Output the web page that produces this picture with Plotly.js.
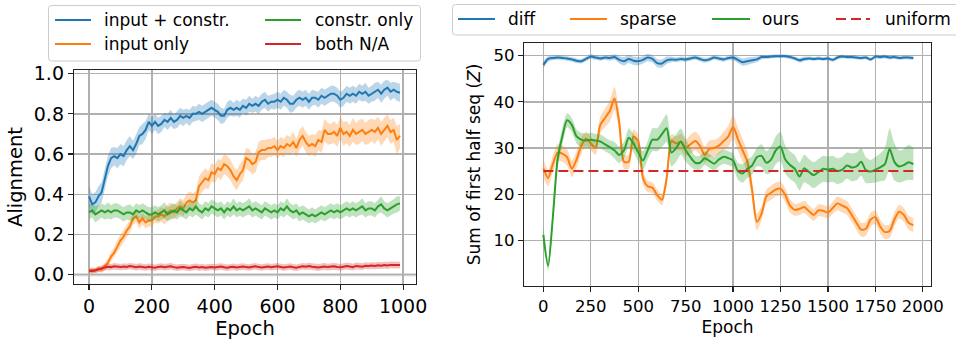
<!DOCTYPE html>
<html><head><meta charset="utf-8">
<script src="https://cdn.plot.ly/plotly-3.0.1.min.js"></script>
<style>html,body{margin:0;padding:0;background:#fff}#chart{width:956px;height:341px}</style>
</head><body><div id="chart"></div>
<script>
// ---------- Left panel data (Alignment vs Epoch) ----------
const leftEpoch = [0,10,20,30,40,50,60,70,80,90,100,110,120,130,140,150,160,170,180,190,
200,210,220,230,240,250,260,270,280,290,300,310,320,330,340,350,360,370,380,390,
400,410,420,430,440,450,460,470,480,490,500,510,520,530,540,550,560,570,580,590,
600,610,620,630,640,650,660,670,680,690,700,710,720,730,740,750,760,770,780,790,
800,810,820,830,840,850,860,870,880,890,900,910,920,930,940,950,960,970,980,990];
const leftNames = ["input + constr.","input only","constr. only","both N/A"];
const inputConstr = [0.39,0.35,0.36,0.39,0.41,0.47,0.54,0.58,0.59,0.58,
0.60,0.59,0.62,0.64,0.62,0.65,0.69,0.70,0.72,0.76,
0.74,0.76,0.74,0.75,0.77,0.76,0.78,0.76,0.77,0.79,
0.78,0.79,0.78,0.80,0.80,0.81,0.80,0.81,0.82,0.83,
0.82,0.81,0.79,0.79,0.82,0.83,0.82,0.83,0.82,0.84,
0.83,0.85,0.84,0.85,0.84,0.86,0.87,0.85,0.86,0.86,
0.87,0.86,0.88,0.87,0.85,0.85,0.87,0.88,0.87,0.88,
0.86,0.88,0.88,0.87,0.89,0.88,0.89,0.90,0.90,0.89,
0.87,0.88,0.90,0.89,0.90,0.89,0.91,0.90,0.91,0.89,
0.90,0.91,0.92,0.90,0.92,0.93,0.91,0.92,0.91,0.905];
const inputConstrErr = [0.05,0.05,0.05,0.05,0.05,0.05,0.05,0.05,0.045,0.05,
0.05,0.05,0.05,0.05,0.045,0.05,0.045,0.05,0.045,0.04,
0.04,0.04,0.04,0.04,0.035,0.04,0.04,0.035,0.04,0.04,
0.04,0.035,0.04,0.04,0.035,0.04,0.04,0.04,0.04,0.04,
0.04,0.04,0.04,0.035,0.04,0.04,0.035,0.04,0.04,0.035,
0.04,0.04,0.035,0.04,0.04,0.04,0.04,0.04,0.035,0.04,
0.04,0.04,0.04,0.04,0.045,0.04,0.04,0.04,0.04,0.04,
0.04,0.04,0.035,0.04,0.04,0.04,0.04,0.04,0.04,0.04,
0.04,0.04,0.04,0.04,0.04,0.04,0.04,0.04,0.045,0.04,
0.04,0.045,0.04,0.045,0.045,0.04,0.045,0.04,0.045,0.045];
const inputOnly = [0.020,0.025,0.020,0.030,0.025,0.040,0.060,0.090,0.110,0.140,
0.17,0.19,0.22,0.24,0.28,0.29,0.26,0.28,0.26,0.27,
0.27,0.29,0.29,0.30,0.29,0.31,0.32,0.31,0.33,0.34,
0.33,0.36,0.37,0.36,0.37,0.44,0.46,0.48,0.47,0.51,
0.50,0.53,0.52,0.55,0.54,0.52,0.49,0.47,0.50,0.52,
0.58,0.57,0.55,0.56,0.61,0.62,0.62,0.63,0.63,0.64,
0.62,0.64,0.63,0.65,0.64,0.66,0.63,0.67,0.69,0.66,
0.64,0.65,0.64,0.67,0.66,0.72,0.70,0.70,0.71,0.69,
0.73,0.70,0.71,0.69,0.72,0.70,0.71,0.72,0.70,0.71,
0.72,0.71,0.73,0.70,0.72,0.74,0.71,0.72,0.67,0.69];
const inputOnlyErr = [0.01,0.012,0.012,0.015,0.015,0.02,0.02,0.025,0.025,0.03,
0.03,0.03,0.03,0.03,0.03,0.03,0.03,0.03,0.03,0.03,
0.03,0.03,0.035,0.035,0.04,0.04,0.04,0.035,0.035,0.04,
0.04,0.04,0.045,0.045,0.045,0.05,0.05,0.05,0.045,0.045,
0.045,0.045,0.05,0.05,0.05,0.05,0.05,0.05,0.05,0.05,
0.05,0.055,0.05,0.05,0.05,0.05,0.05,0.045,0.045,0.045,
0.045,0.045,0.045,0.045,0.045,0.05,0.045,0.05,0.05,0.05,
0.05,0.05,0.055,0.05,0.055,0.055,0.055,0.05,0.055,0.055,
0.055,0.06,0.055,0.055,0.06,0.055,0.06,0.055,0.055,0.06,
0.055,0.06,0.055,0.06,0.06,0.055,0.06,0.06,0.07,0.06];
const constrOnly = [0.31,0.32,0.30,0.31,0.32,0.31,0.32,0.31,0.32,0.32,
0.31,0.30,0.31,0.31,0.30,0.32,0.31,0.32,0.31,0.30,
0.30,0.31,0.30,0.31,0.32,0.30,0.31,0.32,0.31,0.33,
0.32,0.31,0.33,0.32,0.34,0.32,0.31,0.33,0.32,0.34,
0.33,0.32,0.33,0.31,0.33,0.32,0.34,0.32,0.33,0.32,
0.33,0.34,0.32,0.33,0.32,0.31,0.33,0.32,0.31,0.32,
0.31,0.33,0.32,0.34,0.32,0.31,0.32,0.30,0.31,0.30,
0.29,0.30,0.29,0.30,0.31,0.30,0.31,0.32,0.31,0.32,
0.31,0.32,0.33,0.32,0.33,0.32,0.33,0.34,0.32,0.33,
0.33,0.32,0.34,0.35,0.33,0.32,0.33,0.34,0.35,0.355];
const constrOnlyErr = [0.035,0.035,0.04,0.035,0.035,0.035,0.04,0.035,0.035,0.035,
0.035,0.035,0.035,0.04,0.035,0.035,0.035,0.035,0.035,0.035,
0.035,0.035,0.035,0.035,0.04,0.035,0.035,0.035,0.035,0.04,
0.035,0.035,0.035,0.035,0.04,0.035,0.035,0.035,0.035,0.035,
0.035,0.035,0.035,0.035,0.035,0.035,0.04,0.035,0.035,0.035,
0.035,0.04,0.035,0.035,0.035,0.035,0.035,0.035,0.035,0.035,
0.035,0.035,0.035,0.04,0.035,0.035,0.035,0.035,0.035,0.035,
0.035,0.035,0.035,0.035,0.035,0.035,0.035,0.035,0.035,0.035,
0.035,0.035,0.035,0.035,0.035,0.035,0.035,0.04,0.035,0.035,
0.035,0.035,0.035,0.04,0.035,0.035,0.035,0.035,0.04,0.035];
const bothNA = [0.020,0.018,0.022,0.028,0.032,0.036,0.040,0.038,0.042,0.040,
0.038,0.041,0.039,0.043,0.040,0.037,0.041,0.039,0.036,0.040,
0.038,0.035,0.039,0.041,0.037,0.040,0.042,0.038,0.035,0.037,
0.039,0.036,0.034,0.037,0.040,0.036,0.038,0.035,0.037,0.039,
0.036,0.038,0.041,0.037,0.035,0.038,0.040,0.036,0.039,0.041,
0.038,0.036,0.040,0.042,0.038,0.036,0.039,0.041,0.037,0.040,
0.042,0.039,0.036,0.038,0.041,0.037,0.035,0.039,0.042,0.040,
0.043,0.040,0.038,0.036,0.039,0.041,0.038,0.040,0.042,0.039,
0.037,0.040,0.043,0.041,0.038,0.044,0.042,0.040,0.045,0.043,
0.046,0.044,0.047,0.045,0.048,0.046,0.049,0.047,0.048,0.048];
const bothNAErr = [0.012,0.012,0.013,0.014,0.015,0.015,0.016,0.016,0.016,0.016,
0.016,0.016,0.016,0.016,0.016,0.016,0.016,0.016,0.016,0.016,
0.016,0.016,0.016,0.016,0.016,0.016,0.016,0.016,0.016,0.016,
0.016,0.016,0.016,0.016,0.016,0.016,0.016,0.016,0.016,0.016,
0.016,0.016,0.016,0.016,0.016,0.016,0.016,0.016,0.016,0.016,
0.016,0.016,0.016,0.016,0.016,0.016,0.016,0.016,0.016,0.016,
0.016,0.016,0.016,0.016,0.016,0.016,0.016,0.016,0.016,0.016,
0.017,0.017,0.017,0.017,0.017,0.017,0.017,0.017,0.017,0.017,
0.017,0.017,0.017,0.017,0.017,0.017,0.017,0.017,0.017,0.017,
0.017,0.017,0.017,0.017,0.017,0.017,0.017,0.017,0.017,0.017];

// ---------- Right panel data (Sum of first half seq vs Epoch) ----------
const rightEpoch = [0,25,50,75,100,125,150,175,200,225,250,275,300,325,350,375,
400,425,450,475,500,525,550,575,600,625,650,675,700,725,750,775,
800,825,850,875,900,925,950,975,1000,1025,1050,1075,1100,1125,1150,1175,
1200,1225,1250,1275,1300,1325,1350,1375,1400,1425,1450,1475,1500,1525,1550,1575,
1600,1625,1650,1675,1700,1725,1750,1775,1800,1825,1850,1875,1900,1925,1950];
const rightNames = ["diff","sparse","ours","uniform"];
const diffZ = [48.0,49.3,49.5,49.6, 49.5,49.4,49.2,48.9, 48.8,49.3,49.8,49.6, 49.4,49.6,49.5,49.7,
49.1,48.8,49.3,48.9, 48.8,49.1,49.6,49.3, 48.4,48.3,49.0,49.2, 49.1,49.3,49.2,49.4,
49.6,49.3,49.0,49.2, 49.6,49.4,49.2,49.5, 49.6,49.1,48.6,48.8, 49.0,49.2,49.7,49.7,
49.8,49.9,49.9,49.9, 49.7,49.4,49.0,49.3, 49.4,49.3,49.4,49.3, 49.4,49.1,49.6,49.8,
49.7,49.7,49.6,49.5, 49.6,49.2,49.8,49.7, 49.8,49.6,49.7,49.5, 49.6,49.6,49.5];
const diffErr = [0.8,0.6,0.5,0.5, 0.5,0.5,0.5,0.5, 0.5,0.5,0.5,0.5, 0.5,0.5,0.6,0.6,
0.8,0.9,0.9,0.9, 0.9,0.8,0.8,0.8, 0.9,0.9,0.8,0.6, 0.5,0.5,0.5,0.5,
0.5,0.5,0.5,0.5, 0.5,0.5,0.5,0.5, 0.6,0.7,0.8,0.8, 0.7,0.6,0.5,0.4,
0.4,0.4,0.4,0.4, 0.4,0.4,0.5,0.5, 0.4,0.4,0.4,0.4, 0.4,0.4,0.4,0.4,
0.4,0.4,0.4,0.4, 0.4,0.4,0.4,0.4, 0.4,0.4,0.4,0.4, 0.4,0.4,0.4];
const sparseZ = [25.6,23.5,26.5,29.0, 28.8,28.0,25.5,27.5, 30.5,32.0,31.0,30.0, 35.0,36.5,38.0,40.7,
35.5,27.0,27.0,32.5, 31.5,23.5,21.7,21.4, 19.8,18.8,23.5,31.5, 31.0,31.3,30.0,30.8,
31.5,30.5,28.5,29.8, 30.0,30.5,31.5,32.5, 34.6,32.0,29.5,27.0, 21.0,14.0,15.8,19.5,
20.3,21.0,21.2,19.8, 17.5,16.6,16.8,17.2, 16.3,15.5,16.5,16.4, 16.0,17.0,18.0,17.5,
17.0,15.5,13.8,12.3, 12.5,14.5,15.0,13.0, 11.8,12.0,14.5,16.2, 15.5,13.8,13.3];
const sparseErr = [2.0,1.8,1.8,1.8, 1.8,1.8,1.8,1.8, 1.8,1.5,1.5,1.5, 1.8,2.0,2.3,2.5,
2.0,1.5,1.5,1.5, 1.5,1.5,1.2,1.2, 1.2,1.2,1.5,1.5, 1.5,1.8,1.8,2.0,
2.0,2.0,1.8,1.8, 1.8,1.8,2.0,2.3, 2.5,2.5,2.5,2.3, 2.0,1.8,1.5,1.5,
1.5,1.5,1.5,1.5, 1.5,1.3,1.3,1.3, 1.3,1.3,1.3,1.3, 1.3,1.3,1.5,1.5,
1.5,1.5,1.5,1.5, 1.5,1.5,1.5,1.5, 1.5,1.5,1.5,1.5, 1.5,1.5,1.5];
const oursZ = [11.2,4.5,15.0,27.5, 32.5,36.0,35.0,32.5, 31.8,31.6,31.8,31.6, 31.4,30.8,30.2,29.5,
28.5,29.5,32.2,31.0, 29.0,27.3,29.5,31.8, 31.8,33.0,34.3,29.0, 30.0,31.4,29.5,28.0,
26.8,26.8,27.8,27.2, 26.6,27.5,28.1,27.8, 27.3,25.0,24.5,25.5, 26.2,28.0,28.3,26.8,
27.5,29.5,30.3,27.5, 26.3,25.5,23.8,25.6, 24.8,24.1,24.8,25.5, 25.3,25.5,25.0,25.3,
26.2,25.8,26.0,27.0, 25.2,24.9,25.3,25.8, 26.5,29.8,27.0,26.0, 26.3,26.9,26.5];
const oursErr = [1.8,1.0,1.5,1.8, 1.8,1.5,1.5,1.5, 1.5,1.5,1.5,1.5, 1.5,1.5,1.5,1.8,
1.8,1.8,2.0,2.0, 2.0,2.0,2.0,2.5, 2.5,2.8,3.0,3.0, 3.0,2.8,2.5,2.0,
1.5,1.5,1.5,1.5, 1.5,1.5,1.5,1.5, 1.5,1.8,2.0,2.0, 2.0,2.0,2.5,2.5,
2.8,3.0,3.2,3.0, 3.0,3.0,3.0,3.0, 2.8,2.8,2.8,2.8, 2.8,2.8,2.8,2.8,
2.8,3.0,3.0,3.0, 2.8,2.5,2.8,3.0, 3.5,4.5,4.0,3.5, 3.5,3.8,3.5];
const uniformLevel = 25;

// ---------- styling ----------
const C = {blue:'#1f77b4', orange:'#ff7f0e', green:'#2ca02c', red:'#d62728'};
const FILL = {blue:'rgba(31,119,180,0.3)', orange:'rgba(255,127,14,0.3)', green:'rgba(44,160,44,0.3)', red:'rgba(214,39,40,0.3)'};
const W = 956, H = 341;
const FONT = 'DejaVu Sans, sans-serif';

const traces = [];
function addSeries(x, y, err, color, fill, xa, ya, name, shape) {
  const lo = y.map((v,i)=>v-err[i]);
  const hi = y.map((v,i)=>v+err[i]);
  const ls = shape === 'spline' ? {shape:'spline', smoothing:0.7} : {};
  traces.push({x:x, y:lo, xaxis:xa, yaxis:ya, mode:'lines', line:Object.assign({width:0, color:color}, ls), showlegend:false, hoverinfo:'skip'});
  traces.push({x:x, y:hi, xaxis:xa, yaxis:ya, mode:'lines', line:Object.assign({width:0, color:color}, ls), fill:'tonexty', fillcolor:fill, showlegend:false, hoverinfo:'skip'});
  traces.push({x:x, y:y, xaxis:xa, yaxis:ya, mode:'lines', name:name, line:Object.assign({width:2, color:color}, ls), showlegend:false});
}
addSeries(leftEpoch, inputConstr, inputConstrErr, C.blue, FILL.blue, 'x', 'y', leftNames[0]);
addSeries(leftEpoch, inputOnly, inputOnlyErr, C.orange, FILL.orange, 'x', 'y', leftNames[1]);
addSeries(leftEpoch, constrOnly, constrOnlyErr, C.green, FILL.green, 'x', 'y', leftNames[2]);
addSeries(leftEpoch, bothNA, bothNAErr, C.red, FILL.red, 'x', 'y', leftNames[3]);
addSeries(rightEpoch, diffZ, diffErr, C.blue, FILL.blue, 'x2', 'y2', rightNames[0], 'spline');
addSeries(rightEpoch, sparseZ, sparseErr, C.orange, FILL.orange, 'x2', 'y2', rightNames[1], 'spline');
addSeries(rightEpoch, oursZ, oursErr, C.green, FILL.green, 'x2', 'y2', rightNames[2], 'spline');
traces.push({x:[rightEpoch[0], rightEpoch[rightEpoch.length-1]], y:[uniformLevel, uniformLevel], xaxis:'x2', yaxis:'y2',
  mode:'lines', name:rightNames[3], line:{width:2, color:C.red, dash:'10px,5px'}, showlegend:false});

// pixel -> paper helpers (for layout placement only)
const px = p => p / W;
const py = p => 1 - p / H;

function axisCommon(fs) {
  return {showline:true, mirror:true, linecolor:'#222', linewidth:1.2,
    ticks:'outside', ticklen:5, tickwidth:1.2, tickcolor:'#222',
    showgrid:true, gridcolor:'#b0b0b0', gridwidth:1.3, zeroline:false,
    tickfont:{family:FONT, size:fs, color:'#000'}};
}

const shapes = [];
const annotations = [];
// light zero line on left panel
shapes.push({type:'line', xref:'x domain', yref:'y', x0:0, x1:1, y0:0, y1:0, line:{color:'#d3d3d3', width:3}, layer:'below'});

function roundRectPath(x0,y0,x1,y1,r){
  return 'M'+px(x0+r)+','+py(y0)+' L'+px(x1-r)+','+py(y0)+' Q'+px(x1)+','+py(y0)+' '+px(x1)+','+py(y0+r)+
    ' L'+px(x1)+','+py(y1-r)+' Q'+px(x1)+','+py(y1)+' '+px(x1-r)+','+py(y1)+
    ' L'+px(x0+r)+','+py(y1)+' Q'+px(x0)+','+py(y1)+' '+px(x0)+','+py(y1-r)+
    ' L'+px(x0)+','+py(y0+r)+' Q'+px(x0)+','+py(y0)+' '+px(x0+r)+','+py(y0)+' Z';
}
function legendBox(x0,y0,x1,y1){
  shapes.push({type:'path', xref:'paper', yref:'paper', path:roundRectPath(x0,y0,x1,y1,3),
    line:{color:'#cccccc', width:1}, fillcolor:'rgba(255,255,255,0.8)', layer:'above'});
}
function legendItem(lx0, lx1, tx, cy, color, label, fs, dash){
  shapes.push({type:'line', xref:'paper', yref:'paper', x0:px(lx0), x1:px(lx1), y0:py(cy), y1:py(cy),
    line:{color:color, width:2, dash:dash||'solid'}, layer:'above'});
  annotations.push({xref:'paper', yref:'paper', x:px(tx), y:py(cy), xanchor:'left', yanchor:'middle',
    text:label, showarrow:false, font:{family:FONT, size:fs, color:'#000'}});
}
// left legend (2 columns)
legendBox(48.5,5.5,420.5,61);
legendItem(55,91,102,20,C.blue,leftNames[0],17);
legendItem(55,91,102,44,C.orange,leftNames[1],17);
legendItem(265,301,313,20,C.green,leftNames[2],17);
legendItem(265,301,313,44,C.red,leftNames[3],17);
// right legend (1 row)
legendBox(452.5,4.5,962,35);
legendItem(458,495,506,19,C.blue,rightNames[0],17);
legendItem(570,607,618,19,C.orange,rightNames[1],17);
legendItem(712,750,760,19,C.green,rightNames[2],17);
legendItem(836,870,883,19,C.red,rightNames[3],17,'10px,5px');

const layout = {
  width:W, height:H, margin:{l:0,r:0,t:0,b:0}, paper_bgcolor:'#fff', plot_bgcolor:'#fff',
  showlegend:false, font:{family:FONT, color:'#000'},
  xaxis: Object.assign(axisCommon(19), {domain:[px(74), px(416)], range:[-48,1041], tickvals:[0,200,400,600,800,1000],
    title:{text:'Epoch', font:{family:FONT, size:19.5}, standoff:5}, anchor:'y'}),
  yaxis: Object.assign(axisCommon(19), {domain:[py(284), py(70)], range:[-0.046,1.018], tickvals:[0,0.2,0.4,0.6,0.8,1.0], tickformat:'.1f',
    title:{text:'Alignment', font:{family:FONT, size:19.5}, standoff:6}, anchor:'x'}),
  xaxis2: Object.assign(axisCommon(16.5), {domain:[px(524), px(931)], range:[-102,2043], tickvals:[0,250,500,750,1000,1250,1500,1750,2000],
    title:{text:'Epoch', font:{family:FONT, size:17}, standoff:6}, anchor:'y2'}),
  yaxis2: Object.assign(axisCommon(16.5), {domain:[py(286), py(43)], range:[0.1,52.75], tickvals:[10,20,30,40,50],
    title:{text:'Sum of first half seq (<i>Z</i>)', font:{family:FONT, size:17}, standoff:8}, anchor:'x2'}),
  shapes: shapes, annotations: annotations
};
Plotly.newPlot('chart', traces, layout, {staticPlot:true, displayModeBar:false});
</script>
</body></html>
